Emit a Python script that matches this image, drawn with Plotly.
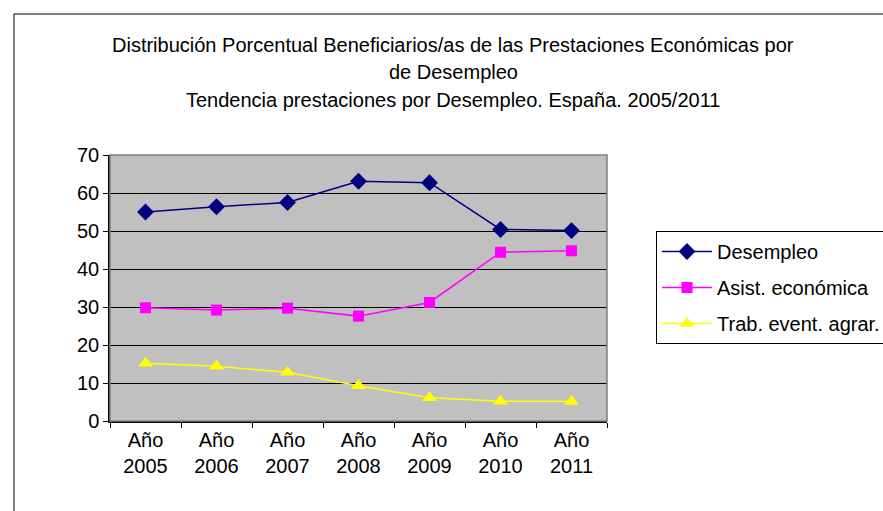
import plotly.graph_objects as go

categories = ["Año<br>2005", "Año<br>2006", "Año<br>2007", "Año<br>2008", "Año<br>2009", "Año<br>2010", "Año<br>2011"]
desempleo = [55.0, 56.4, 57.5, 63.1, 62.7, 50.4, 50.1]
asistencia = [29.8, 29.2, 29.7, 27.6, 31.2, 44.4, 44.8]
agrario = [15.2, 14.4, 12.8, 9.3, 6.1, 5.2, 5.1]
series_names = ["Desempleo", "Asist. económica", "Trab. event. agrar."]
title_lines = [
    "Distribución Porcentual Beneficiarios/as de las Prestaciones Económicas por",
    "de Desempleo",
    "Tendencia prestaciones por Desempleo. España. 2005/2011",
]

W, H = 883, 511
# plot area in pixels
L, R, T, B = 110, 607, 155, 421
FONT = "Liberation Sans, Arial, sans-serif"

def px(x):
    return (x - L) / (R - L)

def py(y):
    return 1 - (y - T) / (B - T)

fig = go.Figure()
fig.add_trace(go.Scatter(x=categories, y=desempleo, name=series_names[0], mode="lines+markers",
                         legendgroup="a",
                         line=dict(color="#000080", width=1.5),
                         marker=dict(symbol="diamond", size=13, color="#000080")))
fig.add_trace(go.Scatter(x=categories, y=asistencia, name=series_names[1], mode="lines+markers",
                         legendgroup="b",
                         line=dict(color="#FF00FF", width=1.5),
                         marker=dict(symbol="square", size=11, color="#FF00FF")))
fig.add_trace(go.Scatter(x=categories, y=agrario, name=series_names[2], mode="lines+markers",
                         legendgroup="c",
                         line=dict(color="#FFFF00", width=1.5),
                         marker=dict(symbol="triangle-up", size=13, color="#FFFF00")))

for txt, ypix in zip(title_lines, [45, 72, 100]):
    fig.add_annotation(text=txt, xref="paper", yref="paper", x=px(453), y=py(ypix),
                       xanchor="center", yanchor="middle", showarrow=False,
                       font=dict(family=FONT, size=20, color="#000000"))

# outer chart border
fig.add_shape(type="rect", xref="paper", yref="paper",
              x0=px(14), x1=px(920), y0=py(560), y1=py(14),
              line=dict(color="#000000", width=1))
# plot-area border
fig.add_shape(type="rect", xref="paper", yref="paper", x0=0, x1=1, y0=0, y1=1,
              line=dict(color="#808080", width=1.5), layer="above")

fig.update_layout(
    width=W, height=H,
    margin=dict(l=L, r=W - R, t=T, b=H - B, pad=0, autoexpand=False),
    paper_bgcolor="#FFFFFF", plot_bgcolor="#C0C0C0",
    font=dict(family=FONT, size=20, color="#000000"),
    showlegend=True,
    legend=dict(x=px(656), y=py(231), xanchor="left", yanchor="top",
                bordercolor="#000000", borderwidth=1, bgcolor="#FFFFFF",
                font=dict(family=FONT, size=20, color="#000000"),
                itemwidth=50, traceorder="grouped", tracegroupgap=7),
    xaxis=dict(type="category", range=[-0.5, 6.5], showgrid=False, showline=True,
               linecolor="#000000", linewidth=1.5, ticks="outside", ticklen=5,
               tickcolor="#000000", tickson="boundaries", zeroline=False,
               tickfont=dict(family=FONT, size=20)),
    yaxis=dict(range=[0, 70], dtick=10, showgrid=True, gridcolor="#000000", gridwidth=1,
               showline=True, linecolor="#000000", linewidth=1.5, ticks="outside", ticklen=5,
               tickcolor="#000000", zeroline=False, tickfont=dict(family=FONT, size=20)),
)

fig.write_html("out.html",
               config={"displayModeBar": False},
               post_script="document.body.style.margin='0';"
                           "document.documentElement.style.overflow='hidden';"
                           "document.body.style.overflow='hidden';")
